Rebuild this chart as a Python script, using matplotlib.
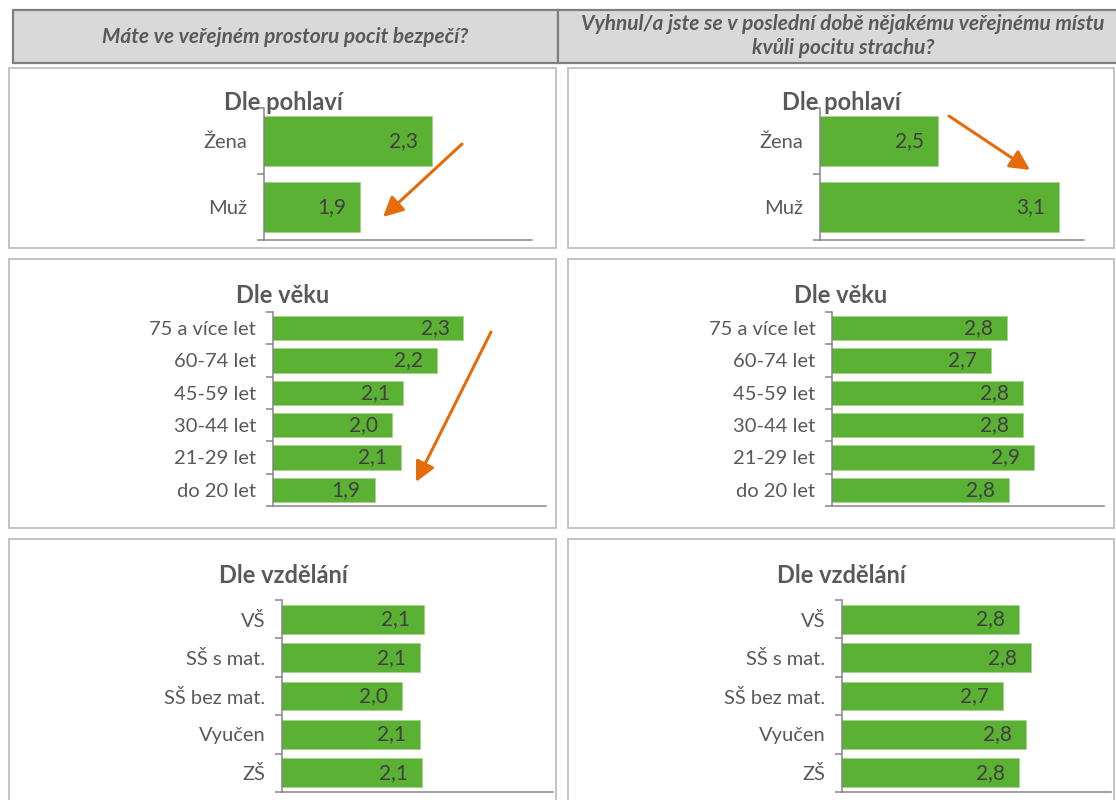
import numpy as np
import matplotlib as mpl

mpl.use("Agg")
import matplotlib.pyplot as plt
from matplotlib.patches import Rectangle, FancyArrowPatch

# ---- data -------------------------------------------------------------
question_safety = "Máte ve veřejném prostoru pocit bezpečí?"
question_avoid = ["Vyhnul/a jste se v poslední době nějakému veřejnému místu",
                  "kvůli pocitu strachu?"]

gender_labels = ["Žena", "Muž"]
gender_safety = [2.31, 1.92]
gender_avoid = [2.51, 3.14]

age_labels = ["75 a více let", "60-74 let", "45-59 let", "30-44 let",
              "21-29 let", "do 20 let"]
age_safety = [2.34, 2.22, 2.07, 2.02, 2.06, 1.94]
age_avoid = [2.76, 2.69, 2.83, 2.83, 2.88, 2.77]

edu_labels = ["VŠ", "SŠ s mat.", "SŠ bez mat.", "Vyučen", "ZŠ"]
edu_safety = [2.12, 2.10, 2.02, 2.10, 2.11]
edu_avoid = [2.77, 2.82, 2.70, 2.80, 2.77]

# ---- style ------------------------------------------------------------
plt.rcParams["font.family"] = ["Lato", "DejaVu Sans"]
GREEN = "#5bb133"
ORANGE = "#e46c0a"
TXT = "#595959"
VAL = "#404040"
AXC = "#868686"

W, H = 1116, 800


def fx(px):
    return px / W


def fy(py):
    return 1 - py / H


fig = plt.figure(figsize=(W / 100, H / 100), dpi=100)

# header cells
for x0, x1 in [(13, 558), (558, 1118)]:
    fig.add_artist(Rectangle((fx(x0), fy(63)), fx(x1) - fx(x0), fy(10) - fy(63),
                             transform=fig.transFigure, facecolor="#d9d9d9",
                             edgecolor="#7f7f7f", linewidth=1.6))
fig.text(fx(285), fy(43), question_safety, ha="center", va="baseline",
         fontsize=15, fontweight="bold", fontstyle="italic", color=TXT)
for line, yb in zip(question_avoid, [30, 54]):
    fig.text(fx(843), fy(yb), line, ha="center", va="baseline",
             fontsize=15, fontweight="bold", fontstyle="italic", color=TXT)

# panel frames
rows = [(68, 248), (259, 528), (539, 812)]
for y0, y1 in rows:
    for x0, x1 in [(9, 556), (568, 1114)]:
        fig.add_artist(Rectangle((fx(x0), fy(y1)), fx(x1) - fx(x0), fy(y0) - fy(y1),
                                 transform=fig.transFigure, facecolor="none",
                                 edgecolor="#bfbfbf", linewidth=1.3))


def panel(box, labels, values, xlim, title, title_xy):
    x0, x1, y0, y1 = box
    ax = fig.add_axes([fx(x0), fy(y1), fx(x1) - fx(x0), fy(y0) - fy(y1)])
    ax.patch.set_alpha(0)
    n = len(labels)
    y = np.arange(n)
    bars = ax.barh(y, values, height=0.75, color=GREEN,
                   edgecolor="#a9d18e", linewidth=0.6)
    for b, v in zip(bars, values):
        ax.annotate(f"{v:.1f}".replace(".", ","),
                    (b.get_width(), b.get_y() + b.get_height() / 2),
                    xytext=(-10, 0), textcoords="offset points",
                    ha="right", va="center", fontsize=15, color=VAL)
    ax.set_xlim(*xlim)
    ax.set_ylim(n - 0.5, -0.5)
    ax.set_yticks(y)
    ax.set_yticklabels(labels, fontsize=14.5, color=TXT)
    ax.set_yticks(np.arange(n + 1) - 0.5, minor=True)
    ax.tick_params(axis="y", which="major", length=0, pad=12)
    ax.tick_params(axis="y", which="minor", length=5, width=1.1,
                   color=AXC, direction="out")
    ax.set_xticks([])
    for s in ["top", "right"]:
        ax.spines[s].set_visible(False)
    for s in ["left", "bottom"]:
        ax.spines[s].set_color(AXC)
        ax.spines[s].set_linewidth(1.1)
    fig.text(fx(title_xy[0]), fy(title_xy[1]), title, ha="center",
             va="baseline", fontsize=17, fontweight="bold", color=TXT)
    return ax


panel((264, 532, 108, 240), gender_labels, gender_safety, (1.4, 2.85),
      "Dle pohlaví", (283, 110))
panel((820, 1084, 108, 240), gender_labels, gender_avoid, (1.9, 3.27),
      "Dle pohlaví", (841, 110))
panel((272.5, 546, 312, 506), age_labels, age_safety, (1.48, 2.712),
      "Dle věku", (283, 303))
panel((832, 1104, 312, 506), age_labels, age_avoid, (2.0, 3.183),
      "Dle věku", (841, 303))
panel((282, 553, 600, 792), edu_labels, edu_safety, (1.48, 2.70),
      "Dle vzdělání", (283, 583))
panel((842, 1111, 600, 792), edu_labels, edu_avoid, (2.0, 3.17),
      "Dle vzdělání", (841, 583))

# trend arrows
for (xa, ya), (xb, yb) in [((462, 144), (383, 217)),
                           ((949, 116), (1030, 170)),
                           ((491, 332), (416, 482))]:
    fig.add_artist(FancyArrowPatch((fx(xa), fy(ya)), (fx(xb), fy(yb)),
                                   transform=fig.transFigure,
                                   arrowstyle="-|>,head_length=1.2,head_width=0.6",
                                   mutation_scale=10, color=ORANGE, linewidth=2.2,
                                   shrinkA=0, shrinkB=0))

fig.savefig("out.png", dpi=100)
